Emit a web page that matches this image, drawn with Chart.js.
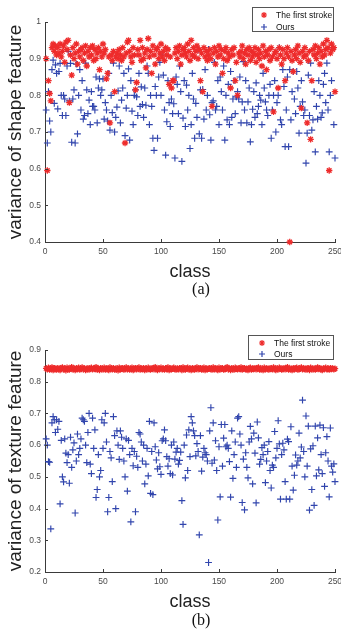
<!DOCTYPE html>
<html lang="en">
<head>
<meta charset="UTF-8">
<title>Variance of shape / texture feature</title>
<script src="https://cdn.jsdelivr.net/npm/chart.js"></script>
<style>
  body { margin: 0; width: 341px; height: 632px; background: #fff; position: relative; overflow: hidden; }
  canvas { position: absolute; left: 0; }
  #chartA { top: 0; }
  #chartB { top: 330px; }
  .cap { position: absolute; left: 176px; width: 50px; text-align: center;
         font-family: "Liberation Serif", "DejaVu Serif", serif; font-size: 16px; line-height: 16px; color: #111; }
</style>
</head>
<body>
<canvas id="chartA" width="341" height="290"></canvas>
<canvas id="chartB" width="341" height="290"></canvas>
<div class="cap" style="top:281px">(a)</div>
<div class="cap" style="top:612px">(b)</div>

<script>
// (a) variance of shape feature, one value per class 1..250
const shapeFirstStroke = [
  0.90, 0.595, 0.84, 0.805, 0.785, 0.93, 0.94, 0.92, 0.935, 0.91,
  0.93, 0.915, 0.94, 0.905, 0.92, 0.935, 0.89, 0.945, 0.925, 0.95,
  0.78, 0.91, 0.855, 0.93, 0.90, 0.915, 0.94, 0.885, 0.92, 0.905,
  0.925, 0.93, 0.895, 0.915, 0.935, 0.88, 0.92, 0.905, 0.93, 0.91,
  0.935, 0.895, 0.925, 0.90, 0.915, 0.93, 0.87, 0.92, 0.905, 0.94,
  0.915, 0.925, 0.845, 0.86, 0.905, 0.725, 0.91, 0.895, 0.92, 0.81,
  0.905, 0.915, 0.90, 0.925, 0.91, 0.895, 0.93, 0.905, 0.67, 0.915,
  0.945, 0.95, 0.92, 0.905, 0.89, 0.93, 0.91, 0.815, 0.835, 0.925,
  0.91, 0.95, 0.895, 0.93, 0.90, 0.915, 0.875, 0.925, 0.955, 0.905,
  0.92, 0.86, 0.935, 0.91, 0.885, 0.925, 0.93, 0.90, 0.915, 0.94,
  0.905, 0.92, 0.895, 0.93, 0.91, 0.925, 0.83, 0.905, 0.82, 0.84,
  0.84, 0.915, 0.93, 0.90, 0.92, 0.935, 0.885, 0.91, 0.925, 0.93,
  0.915, 0.905, 0.94, 0.92, 0.895, 0.95, 0.91, 0.93, 0.905, 0.92,
  0.935, 0.90, 0.925, 0.84, 0.915, 0.81, 0.93, 0.905, 0.92, 0.895,
  0.91, 0.925, 0.90, 0.77, 0.915, 0.93, 0.885, 0.92, 0.905, 0.935,
  0.91, 0.925, 0.86, 0.90, 0.92, 0.93, 0.895, 0.915, 0.905, 0.82,
  0.925, 0.91, 0.93, 0.84, 0.89, 0.80, 0.915, 0.905, 0.92, 0.935,
  0.90, 0.915, 0.885, 0.925, 0.91, 0.93, 0.895, 0.92, 0.905, 0.915,
  0.93, 0.89, 0.91, 0.925, 0.90, 0.915, 0.88, 0.935, 0.905, 0.92,
  0.87, 0.91, 0.925, 0.895, 0.93, 0.905, 0.755, 0.915, 0.92, 0.90,
  0.82, 0.93, 0.91, 0.885, 0.925, 0.90, 0.84, 0.915, 0.93, 0.905,
  0.40, 0.92, 0.895, 0.865, 0.91, 0.925, 0.90, 0.935, 0.915, 0.89,
  0.765, 0.92, 0.905, 0.93, 0.91, 0.725, 0.895, 0.92, 0.68, 0.84,
  0.925, 0.91, 0.935, 0.90, 0.915, 0.93, 0.885, 0.92, 0.905, 0.94,
  0.91, 0.925, 0.95, 0.93, 0.595, 0.915, 0.94, 0.925, 0.93, 0.81
];
const shapeOurs = [
  0.76, 0.67, 0.81, 0.73, 0.70, 0.87, 0.896, 0.778, 0.883, 0.86,
  0.763, 0.865, 0.887, 0.80, 0.745, 0.80, 0.79, 0.745, 0.88, 0.92,
  0.785, 0.887, 0.672, 0.79, 0.815, 0.67, 0.885, 0.695, 0.80, 0.87,
  0.76, 0.84, 0.735, 0.745, 0.888, 0.815, 0.75, 0.787, 0.72, 0.81,
  0.77, 0.77, 0.76, 0.85, 0.725, 0.82, 0.845, 0.80, 0.815, 0.845,
  0.735, 0.78, 0.76, 0.73, 0.86, 0.705, 0.80, 0.753, 0.888, 0.70,
  0.74, 0.768, 0.812, 0.88, 0.725, 0.787, 0.82, 0.86, 0.69, 0.765,
  0.80, 0.872, 0.678, 0.84, 0.757, 0.72, 0.80, 0.815, 0.796, 0.745,
  0.86, 0.77, 0.823, 0.775, 0.74, 0.82, 0.773, 0.88, 0.86, 0.72,
  0.80, 0.77, 0.683, 0.65, 0.824, 0.80, 0.683, 0.85, 0.89, 0.80,
  0.91, 0.855, 0.76, 0.637, 0.728, 0.84, 0.78, 0.715, 0.79, 0.75,
  0.777, 0.629, 0.85, 0.83, 0.75, 0.88, 0.81, 0.62, 0.738, 0.84,
  0.715, 0.828, 0.76, 0.80, 0.655, 0.72, 0.86, 0.79, 0.683, 0.778,
  0.74, 0.925, 0.695, 0.815, 0.683, 0.816, 0.735, 0.87, 0.76, 0.80,
  0.925, 0.747, 0.678, 0.78, 0.785, 0.89, 0.76, 0.77, 0.84, 0.72,
  0.85, 0.81, 0.76, 0.88, 0.678, 0.80, 0.733, 0.83, 0.72, 0.865,
  0.74, 0.79, 0.84, 0.75, 0.796, 0.81, 0.79, 0.85, 0.725, 0.782,
  0.892, 0.76, 0.84, 0.725, 0.782, 0.82, 0.673, 0.72, 0.762, 0.81,
  0.74, 0.834, 0.75, 0.77, 0.80, 0.787, 0.72, 0.86, 0.82, 0.782,
  0.76, 0.745, 0.80, 0.83, 0.683, 0.76, 0.80, 0.84, 0.70, 0.78,
  0.80, 0.93, 0.733, 0.72, 0.87, 0.824, 0.66, 0.76, 0.85, 0.66,
  0.87, 0.733, 0.81, 0.865, 0.79, 0.75, 0.865, 0.82, 0.697, 0.77,
  0.84, 0.782, 0.745, 0.76, 0.615, 0.697, 0.855, 0.745, 0.888, 0.705,
  0.733, 0.81, 0.646, 0.77, 0.735, 0.84, 0.80, 0.74, 0.752, 0.83,
  0.86, 0.78, 0.888, 0.76, 0.646, 0.80, 0.84, 0.93, 0.72, 0.629
];

// (b) variance of texture feature
const textureFirstStroke = [
  0.842, 0.839, 0.844, 0.838, 0.841, 0.845, 0.837, 0.843, 0.840, 0.838,
  0.843, 0.840, 0.837, 0.842, 0.845, 0.839, 0.841, 0.836, 0.844, 0.840,
  0.838, 0.842, 0.846, 0.839, 0.841, 0.837, 0.843, 0.840, 0.844, 0.838,
  0.841, 0.845, 0.839, 0.842, 0.837, 0.840, 0.843, 0.838, 0.841, 0.844,
  0.839, 0.842, 0.840, 0.846, 0.838, 0.841, 0.837, 0.843, 0.840, 0.839,
  0.844, 0.838, 0.842, 0.840, 0.837, 0.845, 0.841, 0.839, 0.843, 0.838,
  0.840, 0.842, 0.836, 0.844, 0.839, 0.841, 0.843, 0.838, 0.840, 0.845,
  0.839, 0.842, 0.838, 0.841, 0.844, 0.837, 0.840, 0.843, 0.839, 0.842,
  0.845, 0.838, 0.841, 0.840, 0.843, 0.837, 0.842, 0.839, 0.844, 0.840,
  0.838, 0.841, 0.843, 0.839, 0.846, 0.840, 0.837, 0.842, 0.840, 0.844,
  0.839, 0.841, 0.838, 0.843, 0.840, 0.845, 0.837, 0.842, 0.839, 0.841,
  0.844, 0.840, 0.838, 0.842, 0.839, 0.843, 0.841, 0.837, 0.845, 0.840,
  0.838, 0.842, 0.844, 0.839, 0.841, 0.837, 0.843, 0.840, 0.838, 0.842,
  0.845, 0.839, 0.841, 0.843, 0.838, 0.840, 0.844, 0.837, 0.842, 0.839,
  0.841, 0.843, 0.840, 0.838, 0.845, 0.839, 0.842, 0.840, 0.837, 0.844,
  0.839, 0.841, 0.843, 0.838, 0.840, 0.842, 0.846, 0.839, 0.841, 0.837,
  0.843, 0.840, 0.838, 0.844, 0.841, 0.839, 0.842, 0.840, 0.845, 0.838,
  0.841, 0.843, 0.839, 0.840, 0.837, 0.842, 0.844, 0.838, 0.841, 0.840,
  0.843, 0.839, 0.842, 0.845, 0.838, 0.840, 0.841, 0.837, 0.844, 0.839,
  0.842, 0.840, 0.838, 0.843, 0.841, 0.839, 0.845, 0.840, 0.837, 0.842,
  0.839, 0.844, 0.841, 0.838, 0.840, 0.843, 0.839, 0.842, 0.846, 0.838,
  0.841, 0.840, 0.837, 0.843, 0.839, 0.842, 0.844, 0.838, 0.840, 0.841,
  0.845, 0.839, 0.842, 0.840, 0.838, 0.843, 0.841, 0.837, 0.844, 0.840,
  0.839, 0.842, 0.838, 0.841, 0.845, 0.840, 0.843, 0.839, 0.837, 0.842,
  0.840, 0.844, 0.839, 0.841, 0.838, 0.843, 0.840, 0.842, 0.839, 0.841
];
const textureOurs = [
  0.62, 0.60, 0.548, 0.546, 0.336, 0.67, 0.69, 0.68, 0.64, 0.68,
  0.65, 0.675, 0.415, 0.615, 0.50, 0.484, 0.62, 0.575, 0.545, 0.57,
  0.48, 0.625, 0.53, 0.585, 0.607, 0.386, 0.55, 0.635, 0.57, 0.59,
  0.62, 0.685, 0.68, 0.675, 0.60, 0.545, 0.64, 0.70, 0.54, 0.51,
  0.685, 0.59, 0.648, 0.435, 0.46, 0.57, 0.50, 0.52, 0.68, 0.59,
  0.67, 0.70, 0.61, 0.39, 0.435, 0.58, 0.56, 0.485, 0.69, 0.63,
  0.40, 0.645, 0.60, 0.555, 0.645, 0.625, 0.59, 0.55, 0.50, 0.62,
  0.455, 0.615, 0.57, 0.358, 0.59, 0.535, 0.58, 0.39, 0.565, 0.53,
  0.64, 0.635, 0.61, 0.55, 0.60, 0.478, 0.54, 0.59, 0.503, 0.675,
  0.448, 0.58, 0.444, 0.67, 0.595, 0.553, 0.525, 0.576, 0.532, 0.508,
  0.614, 0.62, 0.648, 0.614, 0.564, 0.534, 0.557, 0.51, 0.60, 0.506,
  0.61, 0.556, 0.578, 0.59, 0.54, 0.552, 0.578, 0.425, 0.35, 0.60,
  0.497, 0.632, 0.52, 0.648, 0.564, 0.69, 0.67, 0.645, 0.63, 0.566,
  0.605, 0.58, 0.317, 0.63, 0.518, 0.562, 0.59, 0.576, 0.57, 0.55,
  0.23, 0.645, 0.718, 0.543, 0.67, 0.553, 0.614, 0.52, 0.364, 0.595,
  0.437, 0.665, 0.534, 0.622, 0.665, 0.595, 0.60, 0.59, 0.548, 0.436,
  0.645, 0.495, 0.57, 0.61, 0.53, 0.685, 0.69, 0.635, 0.60, 0.419,
  0.556, 0.396, 0.576, 0.53, 0.497, 0.61, 0.659, 0.62, 0.478, 0.638,
  0.575, 0.418, 0.673, 0.623, 0.54, 0.555, 0.592, 0.57, 0.60, 0.482,
  0.55, 0.58, 0.611, 0.52, 0.465, 0.537, 0.53, 0.643, 0.56, 0.59,
  0.677, 0.604, 0.43, 0.57, 0.606, 0.585, 0.485, 0.43, 0.619, 0.611,
  0.43, 0.658, 0.534, 0.458, 0.505, 0.569, 0.537, 0.55, 0.638, 0.56,
  0.594, 0.742, 0.58, 0.50, 0.692, 0.534, 0.66, 0.395, 0.588, 0.46,
  0.598, 0.41, 0.66, 0.503, 0.623, 0.522, 0.663, 0.57, 0.51, 0.655,
  0.47, 0.576, 0.627, 0.55, 0.437, 0.654, 0.534, 0.515, 0.541, 0.485
];

const xTicks = [0, 50, 100, 150, 200, 250];
const seriesNames = ["The first stroke", "Ours"];

const RED = "#ee2b2b";
const BLUE = "#3145ad";
const AXIS = "#3a3a3a";
const FONT = "'Liberation Sans', Arial, sans-serif";

function toPoints(vals) {
  return vals.map((v, i) => ({ x: i + 1, y: v }));
}

// MATLAB-style ticks pointing into the axes
const innerTicks = {
  id: "innerTicks",
  afterDraw(chart) {
    const { ctx, chartArea, scales } = chart;
    ctx.save();
    ctx.strokeStyle = AXIS;
    ctx.lineWidth = 1;
    ctx.beginPath();
    scales.x.ticks.forEach(t => {
      const px = Math.round(scales.x.getPixelForValue(t.value)) + 0.5;
      ctx.moveTo(px, chartArea.bottom);
      ctx.lineTo(px, chartArea.bottom - 3);
    });
    scales.y.ticks.forEach(t => {
      const py = Math.round(scales.y.getPixelForValue(t.value)) + 0.5;
      ctx.moveTo(chartArea.left, py);
      ctx.lineTo(chartArea.left + 3, py);
    });
    ctx.stroke();
    ctx.restore();
  }
};

// boxed legend in the upper right corner
const boxLegend = {
  id: "boxLegend",
  afterDraw(chart, args, opts) {
    const { ctx } = chart;
    const b = opts.box;
    ctx.save();
    ctx.fillStyle = "#fff";
    ctx.fillRect(b[0], b[1], b[2], b[3]);
    ctx.strokeStyle = "#555";
    ctx.lineWidth = 1;
    ctx.strokeRect(b[0] + 0.5, b[1] + 0.5, b[2], b[3]);
    ctx.font = "8.5px " + FONT;
    ctx.fillStyle = "#111";
    ctx.textBaseline = "middle";
    chart.data.datasets.forEach((ds, i) => {
      const y = opts.rows[i];
      const x = opts.markX;
      const r = 3;
      ctx.strokeStyle = ds.borderColor;
      ctx.lineWidth = 1.2;
      ctx.beginPath();
      ctx.moveTo(x - r, y); ctx.lineTo(x + r, y);
      ctx.moveTo(x, y - r); ctx.lineTo(x, y + r);
      if (ds.pointStyle === "star") {
        const d = r * 0.72;
        ctx.moveTo(x - d, y - d); ctx.lineTo(x + d, y + d);
        ctx.moveTo(x - d, y + d); ctx.lineTo(x + d, y - d);
      }
      ctx.stroke();
      ctx.fillText(ds.label, opts.textX, y + 0.5);
    });
    ctx.restore();
  }
};

function makeChart(id, yTitle, yMin, yMax, redVals, blueVals, topPad, legend) {
  return new Chart(document.getElementById(id), {
    type: "scatter",
    data: {
      datasets: [
        { label: seriesNames[0], data: toPoints(redVals), pointStyle: "star",
          radius: 3.2, borderColor: RED, backgroundColor: RED, borderWidth: 1.3, clip: false },
        { label: seriesNames[1], data: toPoints(blueVals), pointStyle: "cross",
          radius: 3.4, borderColor: BLUE, backgroundColor: BLUE, borderWidth: 1.15, clip: false }
      ]
    },
    options: {
      responsive: false,
      animation: false,
      events: [],
      layout: { padding: { top: topPad, right: 6, left: 0, bottom: 0 } },
      plugins: {
        legend: { display: false },
        tooltip: { enabled: false },
        boxLegend: legend
      },
      scales: {
        x: {
          type: "linear", min: 0, max: 250,
          afterBuildTicks: s => { s.ticks = xTicks.map(v => ({ value: v })); },
          afterFit: s => { s.height = 48; s.paddingRight = 0; s.paddingLeft = 0; },
          grid: { drawOnChartArea: false, drawTicks: false },
          border: { color: AXIS, width: 1 },
          ticks: { color: "#4a4a4a", padding: 5, maxRotation: 0, font: { family: FONT, size: 8.5 } },
          title: { display: true, text: "class", color: "#222", padding: { top: 0, bottom: 7 },
                   font: { family: FONT, size: 18 } }
        },
        y: {
          min: yMin, max: yMax,
          ticks: { stepSize: 0.1, color: "#4a4a4a", padding: 4, font: { family: FONT, size: 8.5 },
                   callback: v => String(Math.round(v * 10) / 10) },
          afterFit: s => { s.width = 45; },
          grid: { drawOnChartArea: false, drawTicks: false },
          border: { color: AXIS, width: 1 },
          title: { display: true, text: yTitle, color: "#222", padding: { top: 4, bottom: 0 },
                   font: { family: FONT, size: 19 } }
        }
      }
    },
    plugins: [innerTicks, boxLegend]
  });
}

makeChart("chartA", "variance of shape feature", 0.4, 1, shapeFirstStroke, shapeOurs, 22,
  { box: [252, 7, 81, 24], markX: 264, textX: 276, rows: [15, 27] });
makeChart("chartB", "variance of texture feature", 0.2, 0.9, textureFirstStroke, textureOurs, 20,
  { box: [248, 5, 85, 24], markX: 262, textX: 274, rows: [13, 24] });
</script>
</body>
</html>
